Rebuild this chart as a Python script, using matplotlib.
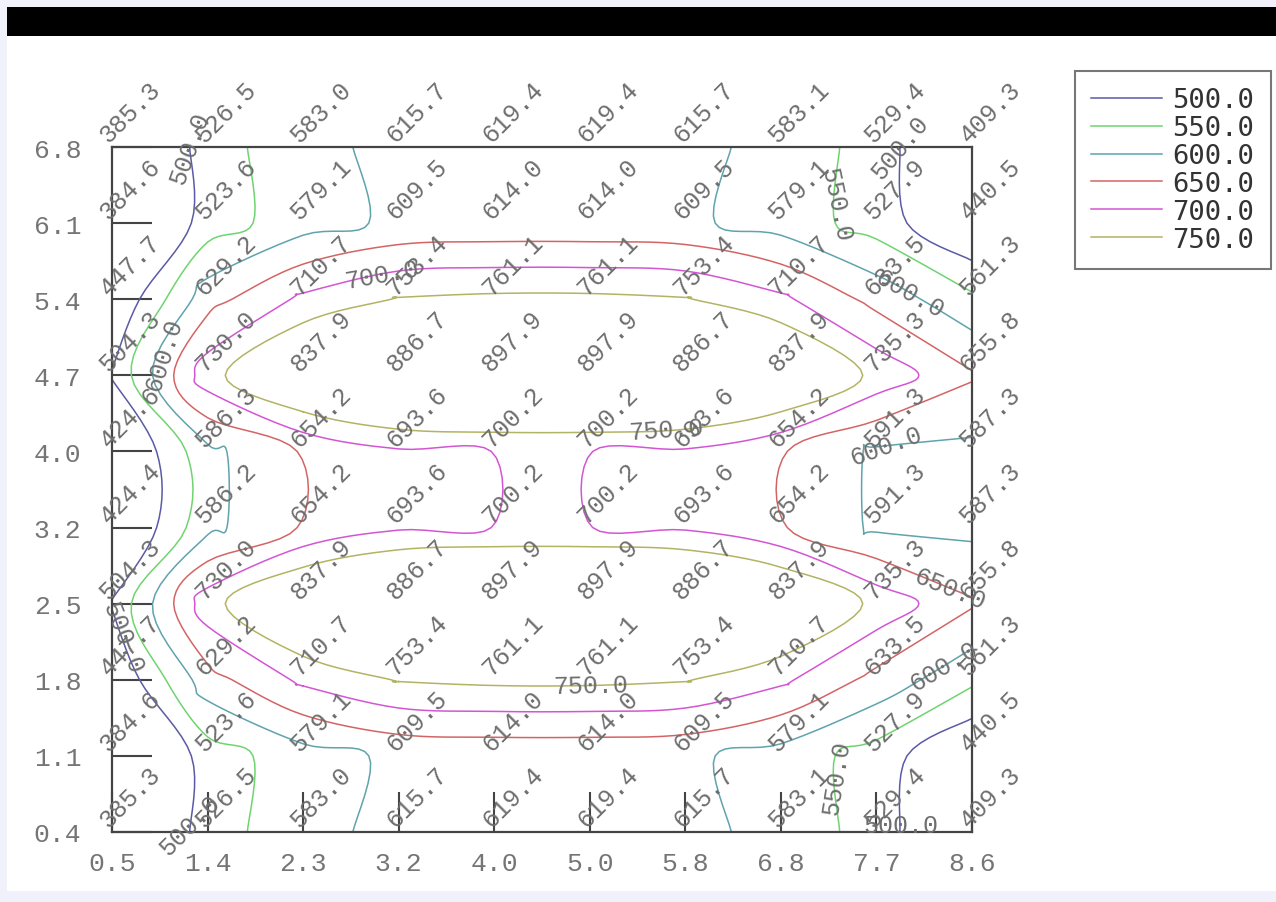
import numpy as np
import matplotlib
matplotlib.use("Agg")
import matplotlib.pyplot as plt
from matplotlib.lines import Line2D
from matplotlib.patches import Rectangle

# tick labels (nodes are evenly spaced, labels are not)
x_labels = ['0.5', '1.4', '2.3', '3.2', '4.0', '5.0', '5.8', '6.8', '7.7', '8.6']
y_labels = ['0.4', '1.1', '1.8', '2.5', '3.2', '4.0', '4.7', '5.4', '6.1', '6.8']

# node values, one row per y tick (bottom to top)
row_04 = [385.3, 526.5, 583.0, 615.7, 619.4, 619.4, 615.7, 583.1, 529.4, 409.3]
row_11 = [384.6, 523.6, 579.1, 609.5, 614.0, 614.0, 609.5, 579.1, 527.9, 440.5]
row_18 = [447.7, 629.2, 710.7, 753.4, 761.1, 761.1, 753.4, 710.7, 633.5, 561.3]
row_25 = [504.3, 730.0, 837.9, 886.7, 897.9, 897.9, 886.7, 837.9, 735.3, 655.8]
row_32 = [424.4, 586.2, 654.2, 693.6, 700.2, 700.2, 693.6, 654.2, 591.3, 587.3]
row_40 = [424.6, 586.3, 654.2, 693.6, 700.2, 700.2, 693.6, 654.2, 591.3, 587.3]
row_47 = [504.3, 730.0, 837.9, 886.7, 897.9, 897.9, 886.7, 837.9, 735.3, 655.8]
row_54 = [447.7, 629.2, 710.7, 753.4, 761.1, 761.1, 753.4, 710.7, 633.5, 561.3]
row_61 = [384.6, 523.6, 579.1, 609.5, 614.0, 614.0, 609.5, 579.1, 527.9, 440.5]
row_68 = [385.3, 526.5, 583.0, 615.7, 619.4, 619.4, 615.7, 583.1, 529.4, 409.3]

levels = [500.0, 550.0, 600.0, 650.0, 700.0, 750.0]
level_colors = ['#5a5aa6', '#6fd46f', '#5fa3ad', '#d46464', '#d455d4', '#b3b364']

Z = np.array([row_04, row_11, row_18, row_25, row_32,
              row_40, row_47, row_54, row_61, row_68])
nx = len(x_labels)
ny = len(y_labels)
X, Y = np.meshgrid(np.arange(nx), np.arange(ny))

mono = 'Liberation Mono'
grey = '#6e6e6e'


def smooth(pts, n=8):
    # catmull-rom through the contour vertices (like gnuplot's spline contours)
    closed = len(pts) > 3 and np.allclose(pts[0], pts[-1])
    if closed:
        p = np.vstack([pts[-2], pts, pts[1]])
    else:
        p = np.vstack([pts[0], pts, pts[-1]])
    out = []
    t = np.linspace(0, 1, n, endpoint=False)[:, None]
    for k in range(1, len(p) - 2):
        p0, p1, p2, p3 = p[k - 1], p[k], p[k + 1], p[k + 2]
        seg = 0.5 * (2 * p1 + (-p0 + p2) * t + (2 * p0 - 5 * p1 + 4 * p2 - p3) * t ** 2
                     + (-p0 + 3 * p1 - 3 * p2 + p3) * t ** 3)
        out.append(seg)
    out.append(p[-2][None, :])
    return np.vstack(out)


fig = plt.figure(figsize=(12.76, 9.03), dpi=100, facecolor='#f1f1fb')
# white page + black title bar
fig.patches.append(Rectangle((7 / 1276, 11 / 903), 1 - 7 / 1276, 1 - 11 / 903 - 37 / 903,
                             transform=fig.transFigure, facecolor='white', edgecolor='none', zorder=-2))
fig.patches.append(Rectangle((7 / 1276, 1 - 37 / 903), 1 - 7 / 1276, 29 / 903,
                             transform=fig.transFigure, facecolor='black', edgecolor='none', zorder=-1))

ax = fig.add_axes([112 / 1276, 70 / 903, 860 / 1276, 685 / 903])
ax.set_facecolor('none')

cs = ax.contour(X, Y, Z, levels=levels, colors=level_colors, linewidths=0.0)
for segs, col in zip(cs.allsegs, level_colors):
    for seg in segs:
        if len(seg) < 2:
            continue
        s = smooth(np.asarray(seg))
        ax.plot(s[:, 0], s[:, 1], color=col, lw=1.1)

# contour labels roughly where the original put them
label_pos = [(0.8, 9.3), (0.6, 0.1), (8.2, 9.2), (7.5, 8.25), (2.8, 7.45),
             (8.35, 7.1), (0.5, 6.3), (5.0, 2.0), (5.8, 5.4), (8.7, 3.0),
             (8.7, 2.2), (0.2, 2.6), (7.3, 0.7), (8.1, 5.07), (8.2, 0.1)]
# the edge labels of the 500 level sit at a slant in the original
label_rot = {0: 70, 1: 45, 2: 50, 14: 0}
ax.clabel(cs, inline=False, fmt='%.1f', manual=label_pos, fontsize=18,
          colors=grey)
for k, t in enumerate(cs.labelTexts):
    t.set_family(mono)
    t.set_clip_on(False)
    if k in label_rot:
        t.set_rotation(label_rot[k])

# node values
for j in range(ny):
    for i in range(nx):
        ax.text(i, j, f'{Z[j, i]:.1f}', rotation=45, rotation_mode='anchor',
                ha='left', va='bottom', fontsize=18, color=grey,
                family=mono, clip_on=False)

ax.set_xlim(0, nx - 1)
ax.set_ylim(0, ny - 1)
ax.set_xticks(np.arange(nx))
ax.set_xticklabels(x_labels)
ax.set_yticks(np.arange(ny))
ax.set_yticklabels(y_labels)
ax.tick_params(direction='in', length=29, width=1.5, color='#444444',
               labelsize=19, labelcolor='#757575', top=False, right=False)
ax.tick_params(axis='y', pad=22)
ax.tick_params(axis='x', pad=14)
for lab in ax.get_xticklabels() + ax.get_yticklabels():
    lab.set_family(mono)
for sp in ax.spines.values():
    sp.set_color('#444444')
    sp.set_linewidth(1.6)

handles = [Line2D([0], [0], color=c, lw=1.1) for c in level_colors]
leg = fig.legend(handles, [f'{v:.1f}' for v in levels], loc='upper left',
                 bbox_to_anchor=(1075 / 1276, 1 - 72 / 903), frameon=True,
                 fancybox=False, handlelength=2.6, handletextpad=0.4,
                 labelspacing=0.07, borderpad=0.6, borderaxespad=0,
                 prop={'family': 'DejaVu Sans Mono', 'size': 19.5})
leg.get_frame().set_edgecolor('#555555')
leg.get_frame().set_linewidth(1.5)
for t in leg.get_texts():
    t.set_color('#333333')

plt.savefig('out.png', dpi=100, facecolor=fig.get_facecolor())
